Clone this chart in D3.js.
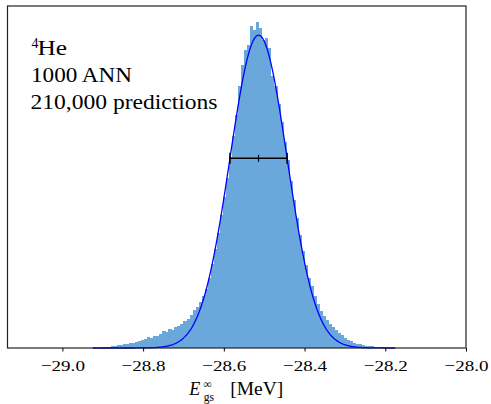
<!DOCTYPE html>
<html>
<head>
<meta charset="utf-8">
<script src="https://cdn.jsdelivr.net/npm/d3@7"></script>
<style>
  html, body { margin: 0; padding: 0; background: #fff; }
  svg { display: block; }
  text { font-family: "Liberation Serif", "DejaVu Serif", serif; fill: #000; }
</style>
</head>
<body>
<svg id="chart" width="491" height="404"></svg>
<script>
// ---- data ----
const binStart = -28.925;      // MeV, left edge of first bin
const binWidth = 0.0075;       // MeV
const density = [
  0.009,0.009,0.011,0.014,0.018,0.023,0.031,0.036,0.050,0.059,
  0.068,0.081,0.090,0.094,0.108,0.135,0.140,0.162,0.198,0.180,
  0.225,0.216,0.261,0.315,0.288,0.342,0.333,0.378,0.405,0.441,
  0.486,0.522,0.594,0.684,0.738,0.828,0.936,1.062,1.260,1.512,
  1.782,2.070,2.394,2.718,3.060,3.438,3.816,4.194,4.716,5.094,
  5.364,5.454,5.796,5.724,5.868,5.760,5.544,5.580,5.400,4.896,
  4.716,4.392,4.068,3.708,3.384,3.006,2.664,2.340,2.034,1.746,
  1.494,1.260,1.116,0.936,0.792,0.666,0.576,0.504,0.432,0.378,
  0.324,0.270,0.234,0.180,0.153,0.126,0.099,0.081,0.072,0.054,
  0.045,0.040,0.032,0.023,0.018,0.016,0.013,0.009,0.005,0.004
];
// Gaussian fit parameters
const fitMu = -28.514;
const fitSigma = 0.0708;
const fitAmp = 5.635;
// x-axis ticks
const tickValues = [-29.0, -28.8, -28.6, -28.4, -28.2, -28.0];
const tickLabels = ["\u221229.0", "\u221228.8", "\u221228.6", "\u221228.4", "\u221228.2", "\u221228.0"];
const annotation = ["He", "1000 ANN", "210,000 predictions"];
const isotopeMass = "4";

// ---- layout ----
const L = 7.5, R = 466, T = 6, B = 348;
const svg = d3.select("#chart");

const x = d3.scaleLinear().domain([-29.136, -28.0]).range([L, R]);
const y = d3.scaleLinear().domain([0, d3.max(density) * 1.05]).range([B, T]);

const bins = density.map((d, i) => ({
  x0: binStart + i * binWidth,
  x1: binStart + (i + 1) * binWidth,
  v: d
}));

// histogram
svg.append("g").attr("shape-rendering", "crispEdges")
  .selectAll("rect").data(bins).join("rect")
  .attr("x", d => x(d.x0))
  .attr("width", d => x(d.x1) - x(d.x0) + 0.2)
  .attr("y", d => y(d.v))
  .attr("height", d => y(0) - y(d.v))
  .attr("fill", "#6aa8dc");

// gaussian fit curve
const gauss = v => fitAmp * Math.exp(-0.5 * Math.pow((v - fitMu) / fitSigma, 2));
const xs = d3.range(0, 401).map(k => binStart + k * (binWidth * density.length) / 400);
svg.append("path")
  .datum(xs)
  .attr("fill", "none")
  .attr("stroke", "#0000ff")
  .attr("stroke-width", 1.3)
  .attr("d", d3.line().x(v => x(v)).y(v => y(gauss(v))));

// error bar (mu +/- sigma)
const ebY = y(gauss(fitMu + fitSigma));
const eb = svg.append("g").attr("stroke", "#000").attr("stroke-width", 1.5);
eb.append("line").attr("x1", x(fitMu - fitSigma)).attr("x2", x(fitMu + fitSigma))
  .attr("y1", ebY).attr("y2", ebY);
[fitMu - fitSigma, fitMu + fitSigma].forEach(v => {
  eb.append("line").attr("x1", x(v)).attr("x2", x(v)).attr("y1", ebY - 5.5).attr("y2", ebY + 5.5);
});
eb.append("line").attr("x1", x(fitMu)).attr("x2", x(fitMu)).attr("y1", ebY - 3.5).attr("y2", ebY + 3.5)
  .attr("stroke-width", 1.2);

// frame
svg.append("rect").attr("x", L).attr("y", T).attr("width", R - L).attr("height", B - T)
  .attr("fill", "none").attr("stroke", "#222").attr("stroke-width", 1.2);

// x axis
const ax = svg.append("g").attr("transform", `translate(0,${B})`)
  .call(d3.axisBottom(x).tickValues(tickValues)
    .tickFormat((d, i) => tickLabels[i]).tickSize(3.5).tickPadding(8.5));
ax.select(".domain").remove();
ax.attr("font-family", null);
ax.selectAll("line").attr("stroke", "#000").attr("stroke-width", 1);
ax.selectAll("text")
  .attr("font-family", "Liberation Serif").attr("font-size", 15.5).attr("fill", "#000")
  .attr("textLength", 44).attr("lengthAdjust", "spacingAndGlyphs");

// x label: E_gs^inf [MeV]
const cx = (L + R) / 2;
const xl = svg.append("text").attr("y", 395);
xl.append("tspan").attr("x", cx - 47.5).attr("y", 395).attr("font-size", 18)
  .attr("font-style", "italic").text("E");
xl.append("tspan").attr("x", cx - 33).attr("y", 400.5).attr("font-size", 11.5).text("gs");
xl.append("tspan").attr("x", cx - 33.5).attr("y", 387.5).attr("font-size", 12).text("\u221e");
xl.append("tspan").attr("x", cx - 6.5).attr("y", 395).attr("font-size", 18)
  .attr("textLength", 53).attr("lengthAdjust", "spacingAndGlyphs").text("[MeV]");

// annotation
const an = svg.append("g");
const t0 = an.append("text").attr("y", 55);
t0.append("tspan").attr("x", 31.5).attr("y", 47.5).attr("font-size", 14).text(isotopeMass);
t0.append("tspan").attr("x", 37.5).attr("y", 55).attr("font-size", 20.5)
  .attr("textLength", 29.5).attr("lengthAdjust", "spacingAndGlyphs").text(annotation[0]);
an.append("text").attr("x", 31).attr("y", 82).attr("font-size", 20.5)
  .attr("textLength", 101).attr("lengthAdjust", "spacingAndGlyphs").text(annotation[1]);
an.append("text").attr("x", 30.5).attr("y", 109).attr("font-size", 20.5)
  .attr("textLength", 187).attr("lengthAdjust", "spacingAndGlyphs").text(annotation[2]);
</script>
</body>
</html>
